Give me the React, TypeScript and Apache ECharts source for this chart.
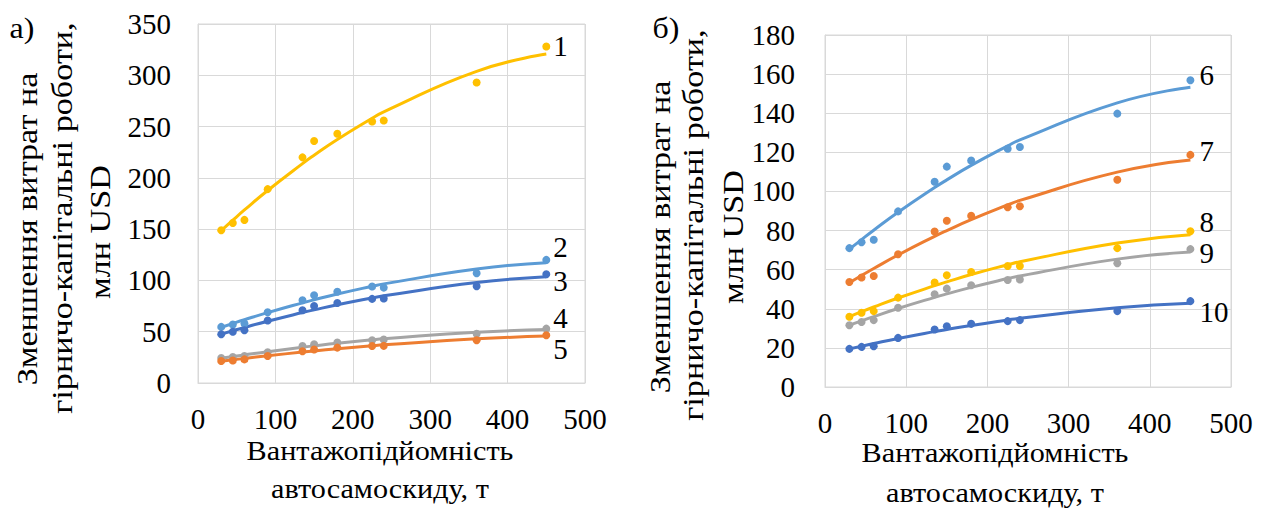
import React, { useEffect, useRef } from "react";
import * as echarts from "echarts";

// Payload (t) of the dump truck
const xValues = [30, 45, 60, 90, 135, 150, 180, 225, 240, 360, 450];

// Panel а)
const s1 = [149, 156, 159, 189, 220, 236, 243, 255, 256, 293, 328];
const s2 = [54.7, 57, 58, 69, 80.7, 85.6, 89, 94, 93, 107, 120];
const s3 = [47.5, 50, 51.5, 61, 71, 75, 78, 82, 82.4, 94.4, 106];
const s4 = [24.4, 25.4, 26.4, 30, 36, 37.8, 39.4, 41.7, 42.4, 48, 53];
const s5 = [21.5, 22, 23, 26.4, 31, 32.6, 34.5, 36, 36.2, 41.7, 46.6];

// Panel б)
const s6 = [71, 74, 75.3, 89.8, 105, 112.7, 115.8, 121.8, 122.7, 139.8, 156.9];
const s7 = [53.7, 56, 56.8, 67.9, 79.5, 85, 87.6, 91.9, 92.4, 106, 118.7];
const s8 = [35.9, 38, 38.8, 45.7, 53.4, 57.1, 58.8, 61.9, 61.9, 71, 79.6];
const s9 = [31.6, 33.2, 34.2, 40.5, 47.4, 50.3, 52, 54.7, 55, 63.3, 70.5];
const s10 = [19.5, 20.5, 20.8, 25.1, 29.4, 31.1, 32.3, 33.7, 34.2, 38.8, 43.9];

const seriesNames = ["1", "2", "3", "4", "5", "6", "7", "8", "9", "10"];
const seriesValues = [s1, s2, s3, s4, s5, s6, s7, s8, s9, s10];
const seriesPanel = [0, 0, 0, 0, 0, 1, 1, 1, 1, 1];
const seriesColors = [
  "#FFC000", "#5B9BD5", "#4472C4", "#A5A5A5", "#ED7D31",
  "#5B9BD5", "#ED7D31", "#FFC000", "#A5A5A5", "#4472C4",
];
const labelOffsetY = [-1, -13, 7, -11, 14, -5, -4, -9, 4, 11];

const xTicks = { min: 0, max: 500, interval: 100 };
const yTicksA = { min: 0, max: 350, interval: 50 };
const yTicksB = { min: 0, max: 180, interval: 20 };

const xTitle = ["Вантажопідйомність", "автосамоскиду, т"];
const yTitle = ["Зменшення витрат на", "гірничо-капітальні роботи,", "млн USD"];
const panelLetters = ["а)", "б)"];

const FONT = "Times New Roman, Liberation Serif, serif";
const FS_TICK = 29;
const FS_XT = 27;
const FS_YT = 30;

// Least-squares 2nd-order polynomial trendline (as in the spreadsheet)
function quadFit(xs: number[], ys: number[]) {
  let n = xs.length, sx = 0, sx2 = 0, sx3 = 0, sx4 = 0, sy = 0, sxy = 0, sx2y = 0;
  for (let i = 0; i < n; i++) {
    const x = xs[i], y = ys[i];
    sx += x; sx2 += x * x; sx3 += x * x * x; sx4 += x * x * x * x;
    sy += y; sxy += x * y; sx2y += x * x * y;
  }
  const A = [
    [n, sx, sx2, sy],
    [sx, sx2, sx3, sxy],
    [sx2, sx3, sx4, sx2y],
  ];
  for (let c = 0; c < 3; c++) {
    for (let r = c + 1; r < 3; r++) {
      const f = A[r][c] / A[c][c];
      for (let k = c; k < 4; k++) A[r][k] -= f * A[c][k];
    }
  }
  const b = [0, 0, 0];
  for (let r = 2; r >= 0; r--) {
    let s = A[r][3];
    for (let k = r + 1; k < 3; k++) s -= A[r][k] * b[k];
    b[r] = s / A[r][r];
  }
  return (x: number) => b[0] + b[1] * x + b[2] * x * x;
}

export default function App() {
  const ref = useRef<HTMLDivElement>(null);
  useEffect(() => {
    if (!ref.current) return;
    const chart = echarts.init(ref.current, undefined, { renderer: "svg" });

    const axisCommon = {
      type: "value" as const,
      axisLine: { show: true, lineStyle: { color: "#D9D9D9", width: 1 } },
      axisTick: { show: false },
      splitLine: { show: true, lineStyle: { color: "#D9D9D9", width: 1 } },
    };
    const labelStyle = { fontFamily: FONT, fontSize: FS_TICK, color: "#000" };

    const series: any[] = [];
    seriesValues.forEach((vals, i) => {
      const panel = seriesPanel[i];
      const fit = quadFit(xValues, vals);
      series.push({
        type: "line",
        name: "trend " + seriesNames[i],
        xAxisIndex: panel,
        yAxisIndex: panel,
        data: xValues.map((x) => [x, fit(x)]),
        smooth: true,
        showSymbol: false,
        symbol: "none",
        lineStyle: { color: seriesColors[i], width: 3 },
        z: 3,
        silent: true,
      });
      series.push({
        type: "scatter",
        name: seriesNames[i],
        xAxisIndex: panel,
        yAxisIndex: panel,
        symbolSize: 8,
        itemStyle: { color: seriesColors[i], opacity: 1 },
        z: 4,
        data: xValues.map((x, j) =>
          j === xValues.length - 1
            ? {
                value: [x, vals[j]],
                label: {
                  show: true,
                  position: "right",
                  distance: panel === 0 ? 3 : 5,
                  offset: [0, labelOffsetY[i]],
                  formatter: seriesNames[i],
                  ...labelStyle,
                },
              }
            : [x, vals[j]]
        ),
      });
    });

    const textStyle = (t: string, fs: number) => ({
      text: t,
      fontFamily: FONT,
      fontSize: fs,
      fill: "#000",
      textAlign: "center",
      textVerticalAlign: "middle",
    });
    const yTitleGraphics = (xs: number[], ys: number[]) =>
      yTitle.map((t, k) => ({
        type: "text",
        x: xs[k],
        y: ys[k],
        rotation: Math.PI / 2,
        scaleX: 1.14,
        style: textStyle(t, FS_YT),
      }));
    const xTitleGraphics = (cx: number, ys: number[]) =>
      xTitle.map((t, k) => ({
        type: "text",
        x: cx,
        y: ys[k],
        scaleX: 1.12,
        style: textStyle(t, FS_XT),
      }));

    chart.setOption({
      animation: false,
      backgroundColor: "#fff",
      textStyle: { fontFamily: FONT },
      grid: [
        { left: 198, top: 24, width: 387, height: 359, show: true, borderColor: "#D9D9D9", borderWidth: 1 },
        { left: 825, top: 35, width: 406, height: 352, show: true, borderColor: "#D9D9D9", borderWidth: 1 },
      ],
      xAxis: [0, 1].map((g) => ({
        ...axisCommon,
        gridIndex: g,
        ...xTicks,
        axisLabel: { ...labelStyle, margin: 21 },
      })),
      yAxis: [
        { ...axisCommon, gridIndex: 0, ...yTicksA, axisLabel: { ...labelStyle, margin: 27 } },
        { ...axisCommon, gridIndex: 1, ...yTicksB, axisLabel: { ...labelStyle, margin: 30 } },
      ],
      series,
      graphic: [
        { type: "text", x: 22, y: 28, scaleX: 1.1, style: textStyle(panelLetters[0], 29) },
        { type: "text", x: 666, y: 28, scaleX: 1.1, style: textStyle(panelLetters[1], 29) },
        ...yTitleGraphics([27, 62, 100], [229, 218, 232]),
        ...yTitleGraphics([660, 693, 733], [237, 225, 237]),
        ...xTitleGraphics(380, [451, 489]),
        ...xTitleGraphics(995, [453, 493]),
      ],
    });
    return () => chart.dispose();
  }, []);
  return (
    <div
      ref={ref}
      style={{ position: "fixed", left: 0, top: 0, width: 1265, height: 510, background: "#fff" }}
    />
  );
}
